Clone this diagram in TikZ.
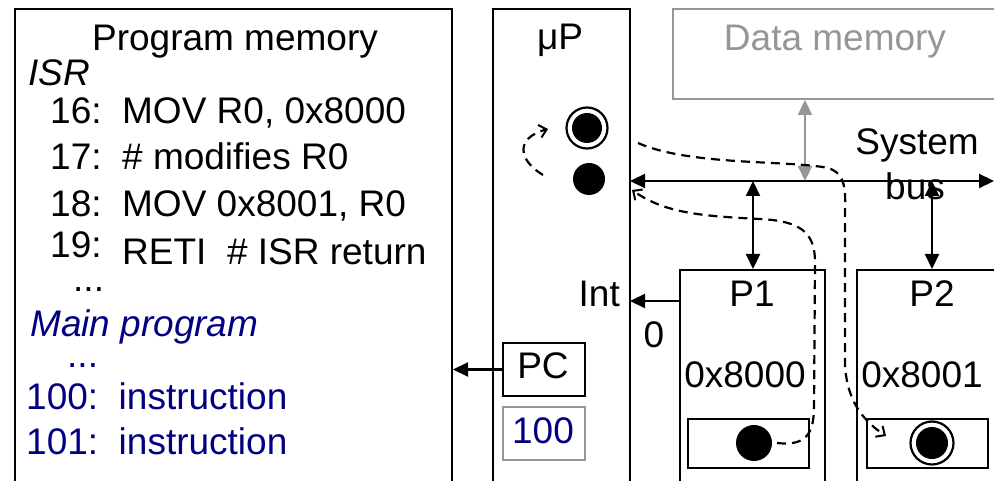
\documentclass[tikz,border=0pt]{standalone}
\usepackage{fontspec}
\setmainfont{Liberation Sans}
\usetikzlibrary{arrows.meta}
\definecolor{navy}{RGB}{0,0,128}
\definecolor{dmgray}{RGB}{150,150,150}
\begin{document}
\begin{tikzpicture}[x=1pt,y=-1pt,
  every node/.style={font=\fontsize{37}{42}\selectfont, inner sep=0pt},
  box/.style={draw, line width=2pt, anchor=north west, minimum width=#1},
  tip/.style={Triangle[length=15pt,width=14pt]},
  tri/.style={-{Triangle[length=15pt,width=14pt]}, line width=2.2pt},
  ttri/.style={{Triangle[length=15pt,width=14pt]}-{Triangle[length=15pt,width=14pt]}, line width=2.2pt},
  dsh/.style={line width=2.2pt, dash pattern=on 9pt off 6pt},
  barb/.style={-{Straight Barb[length=7pt,width=13pt,line width=2pt]}},
  lbl/.style={anchor=base},
  lblw/.style={anchor=base west},
  dot/.style={circle, fill=black, minimum size=#1},
  ring/.style={circle, draw=black, line width=2.2pt, minimum size=#1}
]
\useasboundingbox (0,0) rectangle (994,481);
\clip (0,0) rectangle (994,481);
\fill[white] (0,0) rectangle (994,481);

% boxes
\node[box=437pt, minimum height=500pt] (pm) at (14,8) {};
\node[box=137pt, minimum height=500pt] (up) at (492,8) {};
\node[box=340pt, minimum height=90pt, draw=dmgray] (dm) at (672,8) {};
\node[box=145pt, minimum height=250pt] (p1) at (679,269) {};
\node[box=160pt, minimum height=250pt] (p2) at (856,269) {};
\node[box=121pt, minimum height=49pt] (p1in) at (687,418) {};
\node[box=121pt, minimum height=49pt] (p2in) at (866,418) {};
\node[box=82pt, minimum height=53pt] (pc) at (502,342) {};
\node[box=82pt, minimum height=53pt, draw=dmgray] (pcv) at (502,406) {};

% program memory text
\node[lbl] (t0) at (235,51) {Program memory};
\node[lblw] (t1) at (28,86) {\itshape ISR};
\node[lblw] (t2) at (50,124) {16:\ \ MOV R0, 0x8000};
\node[lblw] (t3) at (50,170) {17:\ \ \# modifies R0};
\node[lblw] (t4) at (50,217) {18:\ \ MOV 0x8001, R0};
\node[lblw] (t5) at (50,258) {19:};
\node[lblw] (t6) at (122,265) {RETI\ \ \# ISR return};
\node[lblw] (t7) at (73,291) {...};
\node[lblw, text=navy] (t8) at (30,337) {\itshape Main program};
\node[lblw, text=navy] (t9) at (67,367) {...};
\node[lblw, text=navy] (t10) at (26,409) {100:\ \ instruction};
\node[lblw, text=navy] (t11) at (26,454) {101:\ \ instruction};

% other labels
\node[lbl] (lup) at (560,50) {μP};
\node[lbl, text=dmgray] (ldm) at (835,51) {Data memory};
\node[lbl] (lsys) at (917,155) {System};
\node[lbl] (lbus) at (915,200) {bus};
\node[lbl, anchor=base east] (lint) at (620,307) {Int};
\node[lbl] (lzero) at (654,348) {0};
\node[lbl] (lp1) at (752,306) {P1};
\node[lbl] (lp2) at (932,306) {P2};
\node[lbl] (la1) at (745,387) {0x8000};
\node[lbl] (la2) at (922,387) {0x8001};
\node[lbl] (lpc) at (543,378) {PC};
\node[lbl, text=navy] (lpcv) at (543,443) {100};

% dots
\node[ring=41pt] (r1) at (587,128) {};
\node[dot=30pt] at (587,128) {};
\node[dot=32pt] (d1) at (589,179) {};
\node[dot=36pt] (d2) at (754,443) {};
\node[ring=43pt] (r2) at (932,443) {};
\node[dot=32pt] at (932,443) {};

% bus
\coordinate (busL) at (630,181);
\coordinate (busR) at (994,181);
\draw[ttri] (busL) -- (busR);
\coordinate (bdm) at (805,181);
\coordinate (bp1) at (753,181);
\coordinate (bp2) at (932,181);
\draw[line width=2.2pt, draw=dmgray, {Triangle[length=15pt,width=14pt,fill=dmgray]}-{Triangle[length=15pt,width=14pt,fill=dmgray]}] (bdm) -- (bdm |- dm.south);
\draw[ttri] (bp1) -- (bp1 |- p1.north);
\draw[ttri] (bp2) -- (bp2 |- p2.north);

% Int and PC
\coordinate (intS) at (679,301);
\coordinate (intE) at (630,301);
\draw[tri] (intS) -- (intE);
\draw[tri] (pc.west) -- (pc.west -| pm.east);

% dashed arrows
\coordinate (s1) at (543,175);
\coordinate (e1) at (548,129);
\draw[dsh, barb] (s1) .. controls (518,160) and (515,138) .. (e1);

\coordinate (s2) at (638,143);
\coordinate (e2) at (886,436);
\draw[dsh, barb] (s2) .. controls (690,166) and (790,160) .. (828,168)
  .. controls (848,174) and (845,195) .. (845,215) -- (845,365)
  .. controls (847,400) and (862,420) .. (e2);

\coordinate (s3) at (777,443);
\coordinate (e3) at (632,190);
\draw[dsh, barb] (s3) .. controls (805,446) and (813,435) .. (814,410)
  -- (815,262) .. controls (815,232) and (800,221) .. (760,219)
  .. controls (700,216) and (665,213) .. (e3);
\end{tikzpicture}
\end{document}
